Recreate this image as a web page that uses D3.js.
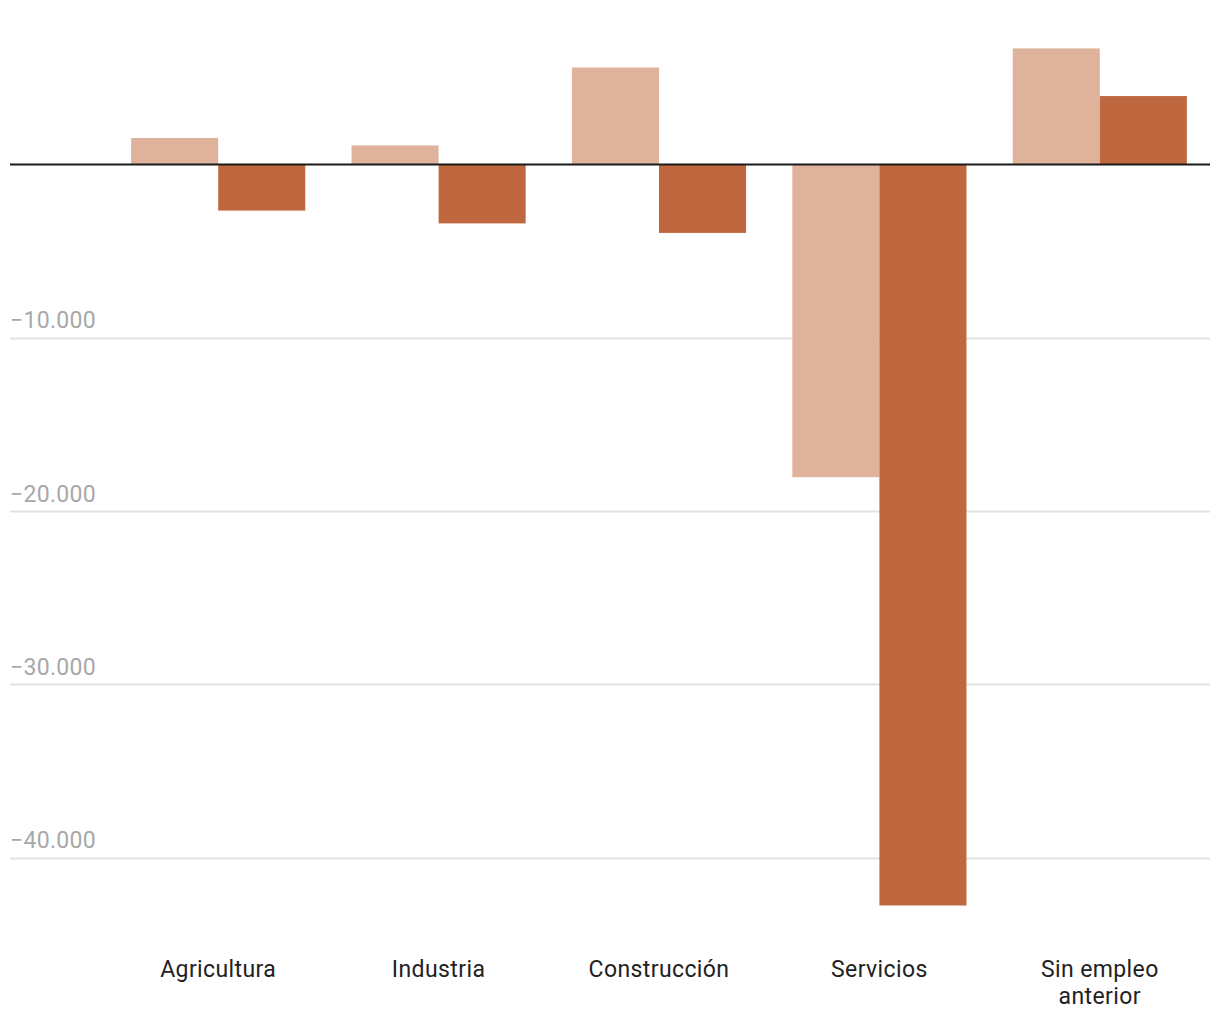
<!DOCTYPE html>
<html><head><meta charset="utf-8">
<script src="https://cdn.jsdelivr.net/npm/d3@7"></script>
<style>body{margin:0;background:#fff}svg{display:block}text{font-family:Roboto,sans-serif}</style>
</head><body><svg id="c" width="1220" height="1020"></svg>
<script>
const categories = ["Agricultura","Industria","Construcción","Servicios","Sin empleo anterior"];
const categoryLines = [["Agricultura"],["Industria"],["Construcción"],["Servicios"],["Sin empleo","anterior"]];
const series1 = [1530, 1100, 5600, -18050, 6700];
const series2 = [-2660, -3400, -3950, -42770, 3950];
const tickValues = [-10000, -20000, -30000, -40000];
const tickLabels = ["−10.000","−20.000","−30.000","−40.000"];
const colors = ["#dfb29c","#bf683f"];

const svg = d3.select("#c");
const y = d3.scaleLinear().domain([0,-40000]).range([164.5,857.5]);
const x = d3.scaleBand().domain(categories).range([108,1210]).paddingInner(0.21).paddingOuter(0.105);
const xs = d3.scaleBand().domain([0,1]).range([0,x.bandwidth()]);

const grid = svg.append("g");
tickValues.forEach((v,i)=>{
  grid.append("line").attr("x1",10).attr("x2",1210).attr("y1",Math.round(y(v))+0.5).attr("y2",Math.round(y(v))+0.5)
    .attr("stroke","#e2e2e2").attr("stroke-width",2);
  grid.append("text").attr("x",10).attr("y",y(v)-9.5).attr("fill","#a8a8a8").attr("font-size",23)
    .attr("letter-spacing","0.3px").text(tickLabels[i]);
});

const data = categories.map((c,i)=>({c,vals:[series1[i],series2[i]]}));
const g = svg.append("g");
data.forEach(d=>{
  d.vals.forEach((v,j)=>{
    g.append("rect").attr("x",x(d.c)+xs(j)).attr("width",xs.bandwidth())
      .attr("y",Math.min(y(v),y(0))).attr("height",Math.abs(y(v)-y(0))).attr("fill",colors[j]);
  });
});
svg.append("line").attr("x1",10).attr("x2",1210).attr("y1",y(0)).attr("y2",y(0)).attr("stroke","#1a1a1a").attr("stroke-width",2);

categories.forEach((c,i)=>{
  const cx = x(c)+x.bandwidth()/2;
  const t = svg.append("text").attr("x",cx).attr("y",977).attr("text-anchor","middle")
    .attr("fill","#222").attr("font-size",23).attr("letter-spacing","0.4px");
  categoryLines[i].forEach((l,k)=>t.append("tspan").attr("x",cx).attr("dy",k?27:0).text(l));
});
</script></body></html>
